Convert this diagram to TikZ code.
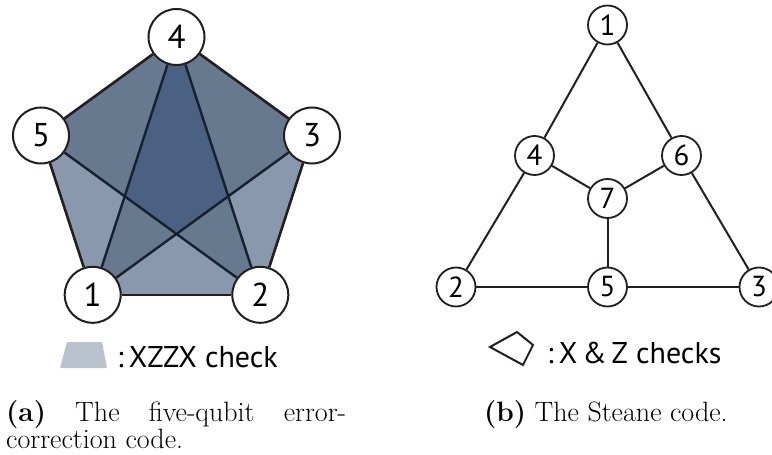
\documentclass[tikz,border=0pt]{standalone}
\usepackage{fontspec}
\newfontfamily\labfont{PT Sans}
\usetikzlibrary{backgrounds}
\definecolor{lightfill}{HTML}{8998AC}
\definecolor{midfill}{HTML}{67798F}
\definecolor{darkfill}{HTML}{4B6182}
\definecolor{diagcol}{HTML}{16212F}
\definecolor{edgecol}{HTML}{231F20}
\definecolor{legfill}{HTML}{B9C1CC}
\tikzset{
  pnode/.style={circle,draw=edgecol,line width=2pt,fill=white,minimum size=56pt,inner sep=0pt,
    font=\labfont\fontsize{33}{33}\selectfont},
  snode/.style={circle,draw=edgecol,line width=1.8pt,fill=white,minimum size=39pt,inner sep=0pt,
    font=\labfont\fontsize{29}{29}\selectfont},
  pedge/.style={draw=edgecol,line width=2.6pt},
  pdiag/.style={draw=diagcol,line width=2.4pt},
  sedge/.style={draw=edgecol,line width=2pt},
  legtext/.style={anchor=base west,inner sep=0pt,font=\labfont\fontsize{30}{30}\selectfont},
  captext/.style={anchor=base west,inner sep=0pt,font=\fontsize{28}{28}\selectfont}
}
\begin{document}
\begin{tikzpicture}[x=1pt,y=-1pt]
\useasboundingbox (0,0) rectangle (772,455);
% five-qubit code
\coordinate (p4) at (176.5,37);
\coordinate (p3) at (312.0,135.5);
\coordinate (p5) at (41.0,135.5);
\coordinate (p2) at (260.3,294.8);
\coordinate (p1) at (92.7,294.8);
\node[pnode] (n1) at (p1) {1};
\node[pnode] (n2) at (p2) {2};
\node[pnode] (n3) at (p3) {3};
\node[pnode] (n4) at (p4) {4};
\node[pnode] (n5) at (p5) {5};
\coordinate (X) at (intersection of p4--p1 and p5--p2);
\coordinate (Y) at (intersection of p4--p2 and p1--p3);
\coordinate (C) at (intersection of p5--p2 and p1--p3);
\begin{scope}[on background layer]
  \fill[lightfill] (p1)--(p2)--(p3)--(p4)--(p5)--cycle;
  \fill[midfill] (p5)--(p4)--(p3)--(Y)--(p2)--(C)--(p1)--(X)--cycle;
  \fill[darkfill] (p4)--(X)--(C)--(Y)--cycle;
  \draw[pdiag] (n4)--(n1);
  \draw[pdiag] (n4)--(n2);
  \draw[pdiag] (n5)--(n2);
  \draw[pdiag] (n1)--(n3);
  \draw[pedge] (n1)--(n2);
  \draw[pedge] (n2)--(n3);
  \draw[pedge] (n3)--(n4);
  \draw[pedge] (n4)--(n5);
  \draw[pedge] (n5)--(n1);
\end{scope}
% Steane code
\node[snode] (s1) at (607.5,25) {1};
\node[snode] (s2) at (456,287) {2};
\node[snode] (s3) at (759,287) {3};
\node[snode] (s4) at (534.5,155.5) {4};
\node[snode] (s6) at (681.5,155.5) {6};
\node[snode] (s7) at (607.5,198.5) {7};
\node[snode] (s5) at (607.5,287) {5};
\begin{scope}[on background layer]
  \draw[sedge] (s1)--(s4);
  \draw[sedge] (s4)--(s2);
  \draw[sedge] (s1)--(s6);
  \draw[sedge] (s6)--(s3);
  \draw[sedge] (s2)--(s5);
  \draw[sedge] (s5)--(s3);
  \draw[sedge] (s4)--(s7);
  \draw[sedge] (s6)--(s7);
  \draw[sedge] (s7)--(s5);
\end{scope}
% legends
\fill[legfill,rounded corners=1pt] (60,368)--(107,368)--(102,342)--(67,342)--cycle;
\node[legtext] (lega) at (117,367) {:\,XZZX check};
\draw[edgecol,line width=2pt,line join=miter] (490,347)--(517,332)--(533,345)--(523,365)--cycle;
\node[legtext] (legb) at (547,363) {:\,X\,\&\,Z checks};
% captions
\node[captext] (capa1) at (6,421) {\makebox[340pt][s]{\textbf{(a)} The five-qubit error-}};
\node[captext] (capa2) at (6,448) {correction code.};
\node[captext] (capb) at (484,421) {\textbf{(b)} The Steane code.};
\end{tikzpicture}
\end{document}
